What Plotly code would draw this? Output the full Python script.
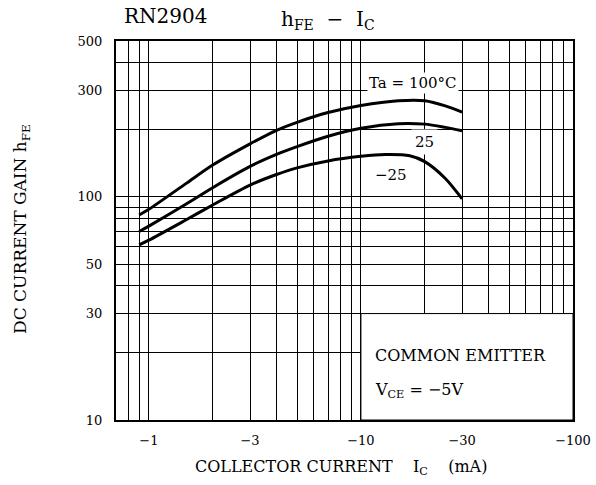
import numpy as np
import plotly.graph_objects as go

# ---- data (|Ic| in mA, hFE) ----
ic_100 = [0.9, 1, 1.5, 2, 3, 4, 5, 7, 10, 15, 20, 25, 30]
hfe_100 = [83, 88, 115, 139, 173, 199, 216, 239, 257, 270, 270, 256, 240]

ic_25 = [0.9, 1, 1.5, 2, 3, 4, 5, 7, 10, 15, 20, 25, 30]
hfe_25 = [70, 74, 93, 110, 137, 155, 168, 187, 203, 213, 212, 205, 198]

ic_m25 = [0.9, 1, 1.5, 2, 3, 4, 5, 7, 10, 13, 17, 20, 25, 30]
hfe_m25 = [61, 64, 79, 92, 113, 126, 135, 145, 152, 155, 153, 144, 121, 98]

x_ticks = [1, 3, 10, 30, 100]
x_ticktext = ["\u22121", "\u22123", "\u221210", "\u221230", "\u2212100"]
x_minor = [0.8, 0.9, 2, 4, 5, 6, 7, 8, 9, 20, 40, 50, 60, 70, 80, 90]

y_ticks = [10, 30, 50, 100, 300, 500]
y_ticktext = ["10", "30", "50", "100", "300", "500"]
y_minor = [20, 40, 60, 70, 80, 90, 200, 400]

FONT = "DejaVu Serif"

fig = go.Figure()
for xs, ys in [(ic_100, hfe_100), (ic_25, hfe_25), (ic_m25, hfe_m25)]:
    fig.add_trace(go.Scatter(x=xs, y=ys, mode="lines",
                             line=dict(color="black", width=3, shape="spline", smoothing=0.8),
                             hoverinfo="skip"))

axis_common = dict(
    type="log", showgrid=True, gridcolor="black", gridwidth=1,
    showline=True, linewidth=2, linecolor="black", mirror=True,
    ticks="", zeroline=False, automargin=False,
    tickfont=dict(family=FONT, size=13, color="black"),
)

fig.update_xaxes(**axis_common, range=[np.log10(0.7), 2],
                 tickvals=x_ticks, ticktext=x_ticktext, ticklabelstandoff=7,
                 minor=dict(tickvals=x_minor, showgrid=True, gridcolor="black", gridwidth=1, ticks=""))
fig.update_yaxes(**axis_common, range=[1, np.log10(500)],
                 tickvals=y_ticks, ticktext=y_ticktext, ticklabelstandoff=9,
                 minor=dict(tickvals=y_minor, showgrid=True, gridcolor="black", gridwidth=1, ticks=""))

# white condition box in lower right
rect = dict(type="rect", xref="x", yref="y", x0=10, x1=100, y0=10, y1=30,
            fillcolor="white", line=dict(color="black", width=1))
try:
    fig.add_shape(**rect, layer="between")
except Exception:
    fig.add_shape(**rect, layer="above")

NB = "\u00a0"
annos = [
    dict(text="Ta" + NB + "=" + NB + "100°C", x=np.log10(17.6), y=np.log10(323), size=15, bg="white", pad=1),
    dict(text="25", x=np.log10(20), y=np.log10(176), size=15, bg="white", pad=3),
    dict(text="\u221225", x=np.log10(13.9), y=np.log10(126), size=15, bg=None, pad=1),
]
for a in annos:
    fig.add_annotation(text=a["text"], x=a["x"], y=a["y"], xref="x", yref="y",
                       xanchor="center", yanchor="middle",
                       showarrow=False, font=dict(family=FONT, size=a["size"], color="black"),
                       bgcolor=a["bg"] if a["bg"] else "rgba(0,0,0,0)", borderpad=a["pad"])

fig.add_annotation(text="COMMON" + NB + "EMITTER", x=np.log10(11.4), y=np.log10(19.4), xref="x", yref="y",
                   xanchor="left", yanchor="middle", showarrow=False,
                   font=dict(family=FONT, size=16, color="black"))
fig.add_annotation(text="V<sub>CE</sub>" + NB + "=" + NB + "\u22125V", x=np.log10(11.4), y=np.log10(13.6),
                   xref="x", yref="y", xanchor="left", yanchor="middle", showarrow=False,
                   font=dict(family=FONT, size=16, color="black"))

# titles (positions in paper fractions of the plot area)
def paper_x(px):
    return (px - 116) / 457

def paper_y(py):
    return (420 - py) / 379

fig.add_annotation(text="RN2904", x=paper_x(165), y=paper_y(16), xref="paper", yref="paper",
                   xanchor="center", yanchor="middle",
                   showarrow=False, font=dict(family=FONT, size=20, color="black"))
fig.add_annotation(text="h<sub>FE</sub>" + NB * 2 + "\u2212" + NB * 2 + "I<sub>C</sub>",
                   x=paper_x(328), y=paper_y(20), xref="paper", yref="paper",
                   xanchor="center", yanchor="middle",
                   showarrow=False, font=dict(family=FONT, size=20, color="black"))
fig.add_annotation(text="COLLECTOR" + NB + "CURRENT" + NB * 4 + "I<sub>C</sub>" + NB * 4 + "(mA)",
                   x=paper_x(341), y=paper_y(467), xref="paper", yref="paper",
                   xanchor="center", yanchor="middle",
                   showarrow=False, font=dict(family=FONT, size=16, color="black"))
fig.add_annotation(text="DC" + NB + "CURRENT" + NB + "GAIN" + NB + "h<sub>FE</sub>", textangle=-90,
                   x=paper_x(21), y=paper_y(229), xref="paper", yref="paper",
                   xanchor="center", yanchor="middle",
                   showarrow=False, font=dict(family=FONT, size=17, color="black"))

fig.update_layout(width=596, height=485, margin=dict(l=116, r=23, t=41, b=65, autoexpand=False),
                  plot_bgcolor="white", paper_bgcolor="white", showlegend=False,
                  font=dict(family=FONT, color="black"))

fig.write_html("out.html", config={"displayModeBar": False},
               post_script="document.body.style.margin='0';")
